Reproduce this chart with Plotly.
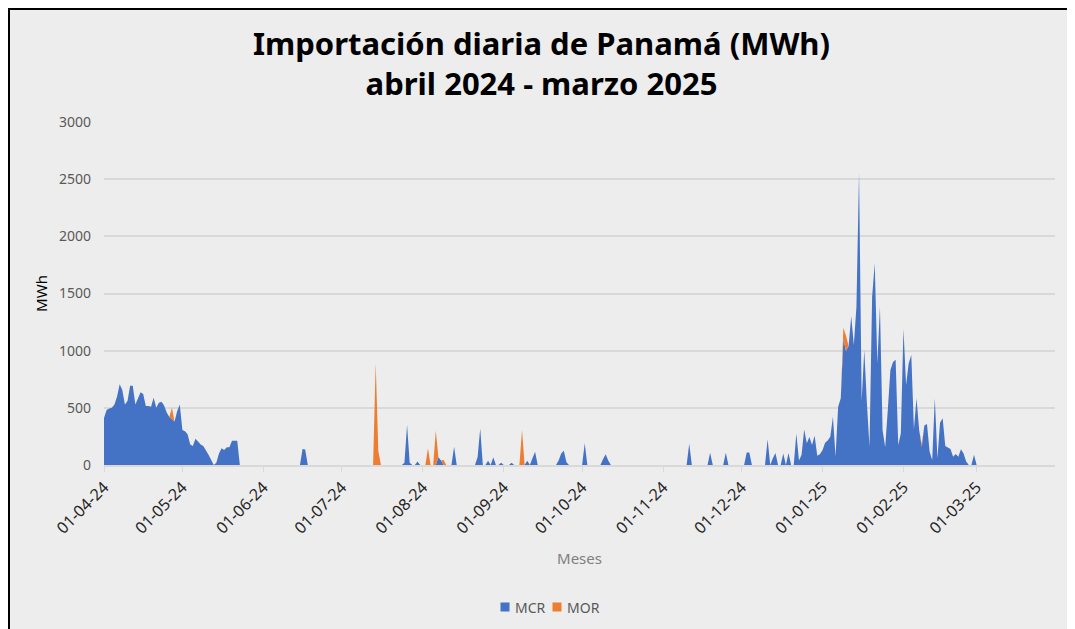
import numpy as np
import pandas as pd
import plotly.graph_objects as go

# ---------------- DATA (daily MWh) ----------------
mcr_abr = [410, 480, 495, 500, 530, 600, 706, 656, 530, 560, 694, 694, 530, 580, 636,
           620, 516, 516, 510, 589, 500, 545, 554, 520, 460, 420, 400, 380, 470, 530]
mor_abr = [0]*26 + [100] + [0]*3

mcr_may = [306, 295, 270, 180, 166, 230, 205, 180, 166, 131, 90, 45, 0, 20, 100, 146,
           131, 155, 155, 213, 213, 213, 0, 0, 0, 0, 0, 0, 0, 0, 0]
mor_may = [0]*31

mcr_jun = [0]*15 + [140, 135] + [0]*13
mor_jun = [0]*30

mcr_jul = [0]*24 + [20, 350, 20, 0, 0, 30, 0]
mor_jul = [0]*13 + [890, 120] + [0]*16

mcr_ago = [0, 0, 0, 0, 0, 0, 67, 40, 0, 0, 0, 0, 160, 0, 0, 0, 0, 0, 0, 0, 0, 70, 320,
           0, 0, 38, 0, 67, 0, 0, 20]
mor_ago = [0, 0, 146, 0, 0, 300, 0, 0, 44] + [0]*22

mcr_sep = [0, 0, 0, 20, 0, 0, 0, 0, 0, 38, 0, 60, 115, 0, 0, 0, 0, 0, 0, 0, 0, 40, 100,
           125, 25, 0, 0, 0, 0, 0]
mor_sep = [0]*7 + [306] + [0]*22

mcr_oct = [0, 190, 0, 0, 0, 0, 0, 0, 50, 95, 40] + [0]*20
mor_oct = [0]*31

mcr_nov = [0]*10 + [185] + [0]*7 + [108] + [0]*5 + [108] + [0]*5
mor_nov = [0]*30

mcr_dic = [0, 0, 110, 110, 0, 0, 0, 0, 0, 0, 225, 0, 60, 105, 0, 0, 100, 0, 105, 0, 0,
           275, 40, 90, 310, 190, 245, 175, 255, 80, 95]
mor_dic = [0]*31

mcr_ene = [130, 195, 215, 248, 423, 75, 510, 583, 1100, 1000, 1040, 1300, 1050, 1385,
           2560, 560, 1006, 540, 160, 1470, 1764, 890, 1385, 306, 155, 480, 831, 900,
           920, 175, 277]
mor_ene = [0]*8 + [100, 130] + [0]*21

mcr_feb = [1190, 700, 890, 962, 315, 583, 306, 160, 345, 359, 117, 44, 583, 58, 370,
           408, 166, 150, 140, 73, 96, 73, 137, 100, 30, 0, 0, 90]
mor_feb = [0]*7 + [25] + [0]*20

mcr_mar = [0]*31
mor_mar = [0]*31

y_ticks = [0, 500, 1000, 1500, 2000, 2500, 3000]
series_names = ["MCR", "MOR"]

mcr = (mcr_abr + mcr_may + mcr_jun + mcr_jul + mcr_ago + mcr_sep + mcr_oct + mcr_nov
       + mcr_dic + mcr_ene + mcr_feb + mcr_mar)
mor = (mor_abr + mor_may + mor_jun + mor_jul + mor_ago + mor_sep + mor_oct + mor_nov
       + mor_dic + mor_ene + mor_feb + mor_mar)
dates = pd.date_range("2024-04-01", "2025-03-31", freq="D")
assert len(mcr) == len(dates) == len(mor)

BLUE = "#4472C4"
ORANGE = "#ED7D31"
FONT = "Noto Sans"

fig = go.Figure()
fig.add_trace(go.Scatter(x=dates, y=mcr, name=series_names[0], stackgroup="one", mode="lines",
                         line=dict(width=0, color=BLUE), fillcolor=BLUE, showlegend=False))
fig.add_trace(go.Scatter(x=dates, y=mor, name=series_names[1], stackgroup="one", mode="lines",
                         line=dict(width=0, color=ORANGE), fillcolor=ORANGE, showlegend=False))

# The page body has an 8px margin; figure coords = page coords - 8
OFF = 8
W, H = 1075 - OFF, 629 - OFF
L, R, T, B = 104 - OFF, 20, 122 - OFF, 164
pw, ph = W - L - R, H - T - B

def px_x(px):  # page px -> paper x
    return (px - OFF - L) / pw

def px_y(py):  # page py -> paper y
    return (H - B - (py - OFF)) / ph

# card background with black top/left border
fig.add_shape(type="rect", xref="paper", yref="paper",
              x0=px_x(9), x1=px_x(1100), y0=px_y(700), y1=px_y(9),
              fillcolor="#EDEDED", line=dict(color="black", width=2), layer="below")

# legend (manual, to match the compact Excel layout)
for nm, col, sx in [(series_names[0], BLUE, 505), (series_names[1], ORANGE, 557)]:
    fig.add_shape(type="rect", xref="paper", yref="paper",
                  x0=px_x(sx - 4.5), x1=px_x(sx + 4.5), y0=px_y(611.5), y1=px_y(602.5),
                  fillcolor=col, line=dict(width=0))
    fig.add_annotation(text=nm, xref="paper", yref="paper", x=px_x(sx + 8), y=px_y(607),
                       xanchor="left", yanchor="middle", showarrow=False,
                       font=dict(size=14, color="#595959", family=FONT))

fig.update_layout(
    width=W, height=H,
    margin=dict(l=L, r=R, t=T, b=B, autoexpand=False),
    paper_bgcolor="white",
    plot_bgcolor="rgba(0,0,0,0)",
    font=dict(family=FONT, color="#595959"),
    title=dict(text="<b>Importación diaria de Panamá (MWh)<br>abril 2024 - marzo 2025</b>",
               x=0.5, xanchor="center", y=1 - 47 / H, yanchor="middle",
               font=dict(size=31, color="black", family=FONT)),
    xaxis=dict(
        type="date",
        range=["2024-04-01", "2025-03-31"],
        tick0="2024-04-01", dtick="M1", tickformat="%d-%m-%y",
        tickangle=-45,
        tickfont=dict(size=16, color="#262626"),
        showgrid=False,
        showline=True, linecolor="#D9D9D9", linewidth=1.5,
        ticks="outside", ticklen=5, tickcolor="#D9D9D9",
        title=dict(text="Meses", font=dict(size=15, color="#808080"), standoff=16),
        zeroline=False, automargin=False,
    ),
    yaxis=dict(
        range=[0, 3000],
        tickvals=y_ticks,
        tickfont=dict(size=14, color="#595959"),
        showgrid=True, gridcolor="#D9D9D9", gridwidth=1.5,
        showline=False, zeroline=False,
        ticks="", ticklabelstandoff=12,
        title=dict(text="MWh", font=dict(size=15, color="black"), standoff=7),
        automargin=False,
    ),
    showlegend=False,
)

fig.write_html("out.html")
